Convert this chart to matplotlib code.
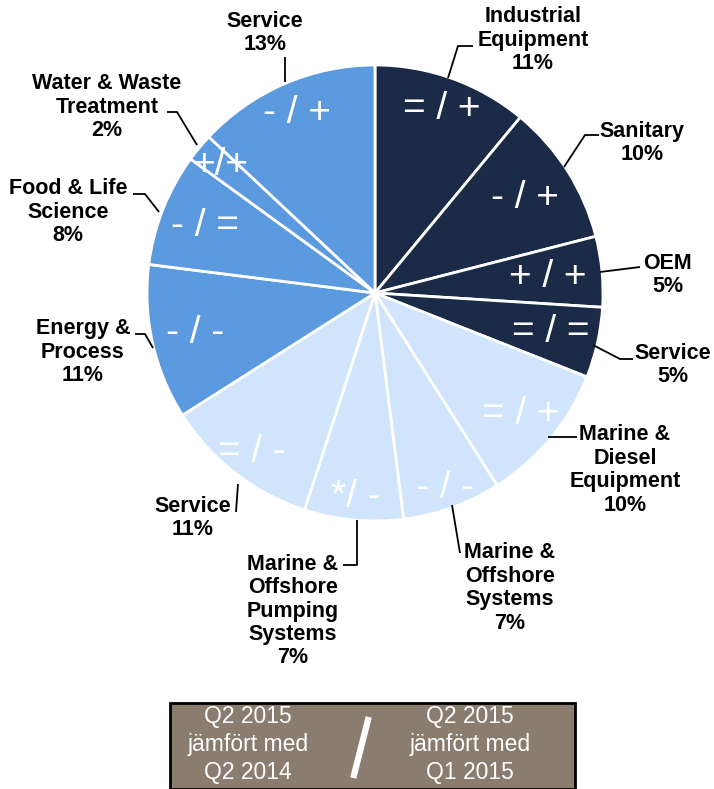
import matplotlib
matplotlib.use("Agg")
import matplotlib.pyplot as plt
import numpy as np

W, H = 714, 789

# slices, clockwise from 12 o'clock
names = ["Industrial\nEquipment", "Sanitary", "OEM", "Service",
         "Marine &\nDiesel\nEquipment", "Marine &\nOffshore\nSystems",
         "Marine &\nOffshore\nPumping\nSystems", "Service",
         "Energy &\nProcess", "Food & Life\nScience",
         "Water & Waste\nTreatment", "Service"]
shares = [11, 10, 5, 5, 10, 7, 7, 11, 11, 8, 2, 13]
trends = ["= / +", "- / +", "+ / +", "= / =", "= / +", "- / -",
          "*/ -", "= / -", "- / -", "- / =", "+/+", "- / +"]
groups = ["dark", "dark", "dark", "dark", "light", "light", "light", "light",
          "mid", "mid", "mid", "mid"]

box_left = ["Q2 2015", "jämfört med", "Q2 2014"]
box_right = ["Q2 2015", "jämfört med", "Q1 2015"]

colors = {"dark": "#1b2b47", "mid": "#5c9ae0", "light": "#d0e4fb"}

# layout (pixels, y measured from top)
cx, cy, R = 375, 293, 228
inner_r = [0.86, 0.78, 0.76, 0.79, 0.83, 0.91, 0.90, 0.88, 0.81, 0.80, 0.88, 0.86]
label_pos = [(533, 40), (642, 143), (668, 275), (673, 365), (625, 470),
             (510, 588), (293, 611), (193, 518), (83, 352), (68, 212),
             (107, 107), (265, 33)]
leaders = [
    [(448, 78), (458, 46), (473, 46)],
    [(564, 167), (585, 135), (599, 135)],
    [(600, 272), (640, 267)],
    [(593, 345), (620, 359), (633, 359)],
    [(548, 437), (577, 437)],
    [(452, 505), (460, 553)],
    [(357, 520), (357, 565), (343, 565)],
    [(238, 484), (236, 512)],
    [(153, 348), (145, 334), (135, 334)],
    [(159, 212), (145, 194), (133, 194)],
    [(197, 145), (177, 112), (167, 112)],
    [(285, 82), (285, 57)],
]


def Y(y):
    return H - y


fig = plt.figure(figsize=(W / 100, H / 100), dpi=100)
ax = fig.add_axes([0, 0, 1, 1])

wedges, _ = ax.pie(shares, colors=[colors[g] for g in groups],
                   startangle=90, counterclock=False,
                   center=(cx, Y(cy)), radius=R, frame=True,
                   wedgeprops=dict(edgecolor="white", linewidth=2))
ax.set_xlim(0, W)
ax.set_ylim(0, H)
ax.set_aspect("equal")
ax.axis("off")

for w, t, f in zip(wedges, trends, inner_r):
    mid = np.deg2rad((w.theta1 + w.theta2) / 2)
    x = cx + R * f * np.cos(mid)
    y = Y(cy) + R * f * np.sin(mid)
    ax.text(x, y, t, color="white", fontsize=28, ha="center", va="center",
            family="Liberation Sans")

for name, s, (lx, ly), pts in zip(names, shares, label_pos, leaders):
    ax.text(lx, Y(ly), f"{name}\n{s}%", fontsize=15.5, fontweight="bold",
            ha="center", va="center", family="Liberation Sans",
            linespacing=1.15)
    xs = [p[0] for p in pts]
    ys = [Y(p[1]) for p in pts]
    ax.plot(xs, ys, color="black", lw=1.3, solid_capstyle="butt")

# legend box
box = plt.Rectangle((170, Y(789)), 405, 86, facecolor="#8a7c6e",
                    edgecolor="black", lw=2)
ax.add_patch(box)
for i, (a, b) in enumerate(zip(box_left, box_right)):
    yy = Y(716 + i * 28.5)
    ax.text(248, yy, a, color="white", fontsize=16.5, ha="center",
            va="center", family="Liberation Sans")
    ax.text(470, yy, b, color="white", fontsize=16.5, ha="center",
            va="center", family="Liberation Sans")
ax.plot([368, 354], [Y(720), Y(775)], color="white", lw=4.5)

fig.savefig("out.png", dpi=100)
